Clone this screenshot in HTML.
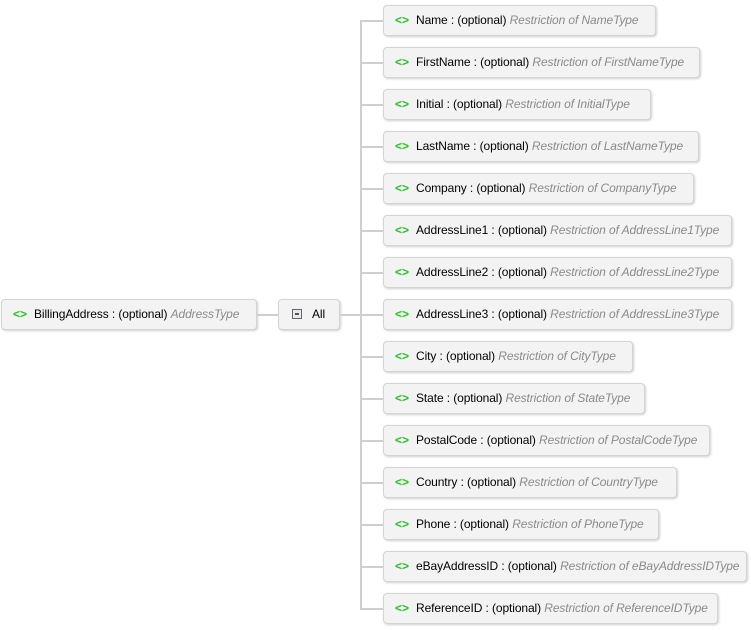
<!DOCTYPE html>
<html><head><style>
body{margin:0;width:751px;height:630px;background:#fff;position:relative;overflow:hidden;font-family:"Liberation Sans",sans-serif;font-size:12px;color:#000}
.b{position:absolute;height:31px;background:#f3f3f3;border:1px solid #d4d4d4;border-radius:4px;box-shadow:1px 1px 2px #cfcfcf;box-sizing:border-box;white-space:nowrap;overflow:hidden;line-height:29px;letter-spacing:-0.1px}
.i{color:#22c322;font-weight:bold;margin-left:11px;margin-right:7px;letter-spacing:0}
.t{color:#8a8a8a;font-style:italic}
.l{position:absolute;background:#cfcfcf}
</style></head><body>
<div class="l" style="left:256px;top:314px;width:22px;height:2px"></div>
<div class="l" style="left:340px;top:314px;width:22px;height:2px"></div>
<div class="l" style="left:360px;top:20px;width:2px;height:590px"></div>
<div class="l" style="left:360px;top:20px;width:24px;height:2px"></div>
<div class="l" style="left:360px;top:62px;width:24px;height:2px"></div>
<div class="l" style="left:360px;top:104px;width:24px;height:2px"></div>
<div class="l" style="left:360px;top:146px;width:24px;height:2px"></div>
<div class="l" style="left:360px;top:188px;width:24px;height:2px"></div>
<div class="l" style="left:360px;top:230px;width:24px;height:2px"></div>
<div class="l" style="left:360px;top:272px;width:24px;height:2px"></div>
<div class="l" style="left:360px;top:314px;width:24px;height:2px"></div>
<div class="l" style="left:360px;top:356px;width:24px;height:2px"></div>
<div class="l" style="left:360px;top:398px;width:24px;height:2px"></div>
<div class="l" style="left:360px;top:440px;width:24px;height:2px"></div>
<div class="l" style="left:360px;top:482px;width:24px;height:2px"></div>
<div class="l" style="left:360px;top:524px;width:24px;height:2px"></div>
<div class="l" style="left:360px;top:566px;width:24px;height:2px"></div>
<div class="l" style="left:360px;top:608px;width:24px;height:2px"></div>

<div class="b" style="left:1px;top:299px;width:256px"><span class="i">&lt;&gt;</span>BillingAddress : (optional) <span class="t">AddressType</span></div>
<div class="b" style="left:278px;top:299px;width:62px"><span style="display:inline-block;width:10px;height:10px;border:1px solid #666;box-sizing:border-box;margin-left:13px;margin-right:10px;vertical-align:-1px;background:#e8e8f0;position:relative"><span style="position:absolute;left:2px;top:3px;width:4px;height:2px;border:1px solid #555;box-sizing:border-box"></span></span>All</div>

<div class="b" style="left:383px;top:5px;width:273px"><span class="i">&lt;&gt;</span>Name : (optional) <span class="t">Restriction of NameType</span></div>
<div class="b" style="left:383px;top:47px;width:317px"><span class="i">&lt;&gt;</span>FirstName : (optional) <span class="t">Restriction of FirstNameType</span></div>
<div class="b" style="left:383px;top:89px;width:268px"><span class="i">&lt;&gt;</span>Initial : (optional) <span class="t">Restriction of InitialType</span></div>
<div class="b" style="left:383px;top:131px;width:316px"><span class="i">&lt;&gt;</span>LastName : (optional) <span class="t">Restriction of LastNameType</span></div>
<div class="b" style="left:383px;top:173px;width:311px"><span class="i">&lt;&gt;</span>Company : (optional) <span class="t">Restriction of CompanyType</span></div>
<div class="b" style="left:383px;top:215px;width:349px"><span class="i">&lt;&gt;</span>AddressLine1 : (optional) <span class="t">Restriction of AddressLine1Type</span></div>
<div class="b" style="left:383px;top:257px;width:349px"><span class="i">&lt;&gt;</span>AddressLine2 : (optional) <span class="t">Restriction of AddressLine2Type</span></div>
<div class="b" style="left:383px;top:299px;width:349px"><span class="i">&lt;&gt;</span>AddressLine3 : (optional) <span class="t">Restriction of AddressLine3Type</span></div>
<div class="b" style="left:383px;top:341px;width:250px"><span class="i">&lt;&gt;</span>City : (optional) <span class="t">Restriction of CityType</span></div>
<div class="b" style="left:383px;top:383px;width:262px"><span class="i">&lt;&gt;</span>State : (optional) <span class="t">Restriction of StateType</span></div>
<div class="b" style="left:383px;top:425px;width:327px"><span class="i">&lt;&gt;</span>PostalCode : (optional) <span class="t">Restriction of PostalCodeType</span></div>
<div class="b" style="left:383px;top:467px;width:294px"><span class="i">&lt;&gt;</span>Country : (optional) <span class="t">Restriction of CountryType</span></div>
<div class="b" style="left:383px;top:509px;width:276px"><span class="i">&lt;&gt;</span>Phone : (optional) <span class="t">Restriction of PhoneType</span></div>
<div class="b" style="left:383px;top:551px;width:364px"><span class="i">&lt;&gt;</span>eBayAddressID : (optional) <span class="t">Restriction of eBayAddressIDType</span></div>
<div class="b" style="left:383px;top:593px;width:335px"><span class="i">&lt;&gt;</span>ReferenceID : (optional) <span class="t">Restriction of ReferenceIDType</span></div>
</body></html>
